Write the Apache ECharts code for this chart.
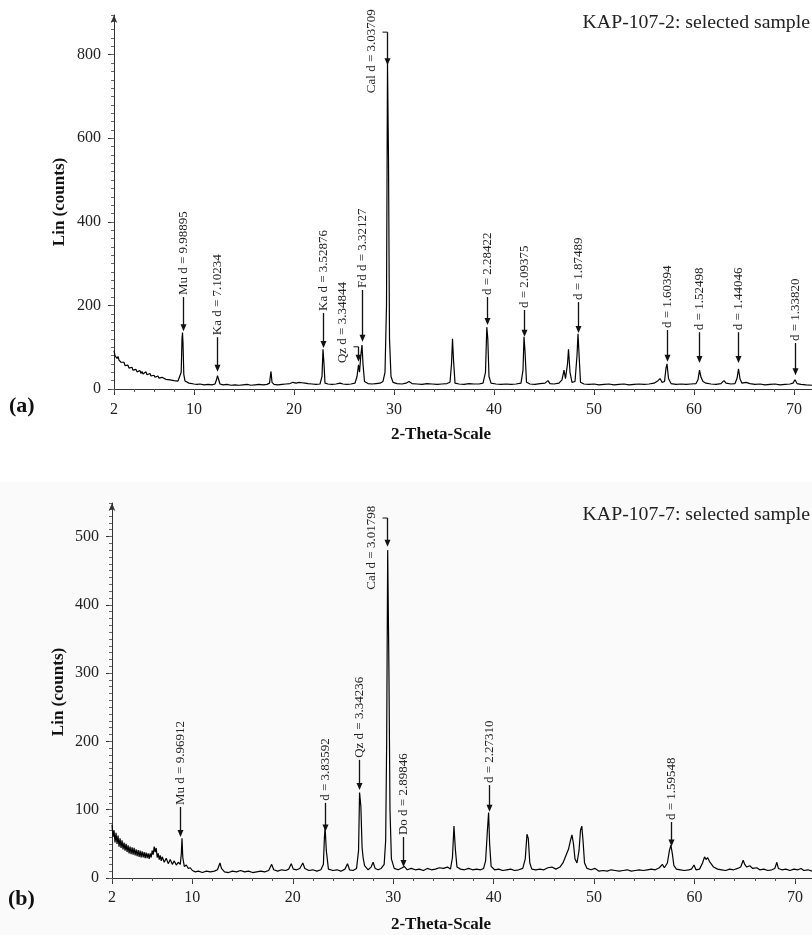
<!DOCTYPE html>
<html>
<head>
<meta charset="utf-8">
<script src="https://cdn.jsdelivr.net/npm/echarts@6/dist/echarts.min.js"></script>
<style>html,body{margin:0;padding:0;background:#fff}#c{width:812px;height:935px}</style>
</head>
<body>
<div id="c"></div>
<script>
// ---------- DATA ----------
const xTickLabels = [2, 10, 20, 30, 40, 50, 60, 70];
const yTicksA = [0, 200, 400, 600, 800];
const yTicksB = [0, 100, 200, 300, 400, 500];

// Panel (a): KAP-107-2  [2-theta, counts]
const specA = [
[2.0,92],[2.1,80],[2.2,84],[2.3,73],[2.4,78],[2.5,69],[2.6,72],[2.7,64],[2.8,68],[2.9,60],
[3.0,64],[3.1,56],[3.2,60],[3.3,53],[3.4,57],[3.5,50],[3.6,54],[3.7,47],[3.8,52],[3.9,45],
[4.0,49],[4.1,43],[4.2,47],[4.3,41],[4.4,45],[4.5,39],[4.6,44],[4.7,37],[4.8,42],[4.9,36],
[5.0,40],[5.1,35],[5.2,41],[5.3,34],[5.4,38],[5.5,32],[5.6,37],[5.7,31],[5.8,35],[5.9,30],
[6.0,33],[6.1,28],[6.2,32],[6.3,27],[6.4,31],[6.5,26],[6.6,29],[6.7,25],[6.8,28],[6.9,24],
[7.0,27],[7.2,23],[7.4,26],[7.6,22],[7.8,24],[8.0,20],[8.2,23],[8.4,19],[8.6,22],
[8.72,40],[8.8,120],[8.85,135],[8.9,110],[8.98,35],[9.1,19],[9.3,16],[9.5,14],[9.7,15],
[10.0,12],[10.3,11],[10.6,12],[11.0,10],[11.4,11],[11.8,10],[12.1,12],[12.25,22],[12.35,32],[12.45,24],
[12.6,12],[12.9,10],[13.3,11],[13.7,9],[14.1,10],[14.5,9],[14.9,10],[15.3,11],[15.7,9],[16.1,10],
[16.5,11],[16.9,10],[17.3,11],[17.55,14],[17.7,42],[17.8,16],[18.0,11],[18.4,10],[18.8,11],[19.2,12],
[19.6,13],[19.9,16],[20.2,14],[20.5,16],[20.8,15],[21.1,14],[21.4,13],[21.8,12],[22.2,11],[22.6,12],
[22.8,30],[22.9,95],[23.0,60],[23.1,14],[23.4,12],[23.8,11],[24.2,12],[24.6,14],[24.9,12],[25.3,11],
[25.7,12],[26.1,14],[26.3,30],[26.45,58],[26.55,40],[26.7,85],[26.8,105],[26.9,60],[27.05,18],[27.4,13],
[27.8,12],[28.2,13],[28.6,14],[28.9,18],[29.1,40],[29.25,200],[29.35,780],[29.45,550],[29.55,120],[29.7,30],
[29.9,16],[30.3,13],[30.8,12],[31.2,14],[31.5,18],[31.8,13],[32.3,12],[32.8,11],[33.3,13],[33.8,12],
[34.3,11],[34.8,12],[35.3,13],[35.6,16],[35.75,60],[35.85,120],[35.95,70],[36.1,14],[36.5,12],[37.0,11],
[37.5,13],[38.0,12],[38.5,12],[38.9,14],[39.15,40],[39.28,148],[39.38,120],[39.5,30],[39.7,14],[40.2,12],
[40.7,11],[41.2,12],[41.7,11],[42.2,12],[42.7,14],[42.9,45],[43.0,125],[43.1,90],[43.25,16],[43.6,12],
[44.1,11],[44.6,13],[45.1,14],[45.4,20],[45.6,13],[46.0,12],[46.5,14],[46.8,22],[47.0,45],[47.15,25],
[47.35,60],[47.45,95],[47.6,40],[47.8,16],[48.1,18],[48.3,80],[48.4,132],[48.5,85],[48.65,16],[49.0,12],
[49.5,11],[50.0,12],[50.5,10],[51.0,11],[51.5,12],[52.0,10],[52.5,11],[53.0,12],[53.5,10],[54.0,11],
[54.5,12],[55.0,11],[55.5,12],[56.0,14],[56.4,20],[56.6,25],[56.8,16],[57.05,18],[57.2,50],[57.3,60],
[57.45,25],[57.7,13],[58.2,11],[58.7,12],[59.2,11],[59.7,12],[60.2,13],[60.4,22],[60.55,45],[60.7,28],
[60.9,18],[61.2,14],[61.7,12],[62.2,11],[62.7,13],[63.0,20],[63.2,14],[63.7,12],[64.1,13],[64.3,25],
[64.45,48],[64.6,24],[64.8,14],[65.2,16],[65.6,13],[66.1,11],[66.6,12],[67.1,10],[67.6,11],[68.1,12],
[68.6,10],[69.1,11],[69.6,12],[69.9,14],[70.1,22],[70.3,13],[70.7,11],[71.2,10],[71.8,9]
];

// Panel (b): KAP-107-7  [2-theta, counts]
const specB = [
[2.0,78],[2.1,60],[2.2,70],[2.3,52],[2.4,66],[2.5,50],[2.6,62],[2.7,46],[2.8,58],[2.9,44],
[3.0,55],[3.1,42],[3.2,52],[3.3,40],[3.4,50],[3.5,38],[3.6,48],[3.7,36],[3.8,46],[3.9,35],
[4.0,45],[4.1,34],[4.2,44],[4.3,33],[4.4,42],[4.5,32],[4.6,41],[4.7,31],[4.8,40],[4.9,30],
[5.0,39],[5.1,30],[5.2,38],[5.3,29],[5.4,37],[5.5,29],[5.6,36],[5.7,28],[5.8,36],[5.9,30],
[6.0,40],[6.1,34],[6.2,46],[6.3,38],[6.4,44],[6.5,30],[6.6,36],[6.7,27],[6.8,33],[6.9,25],
[7.0,31],[7.2,23],[7.4,29],[7.6,21],[7.8,27],[8.0,20],[8.2,25],[8.4,19],[8.6,23],[8.8,20],
[8.9,35],[8.97,58],[9.05,30],[9.2,17],[9.4,19],[9.6,14],[9.8,15],
[10.0,11],[10.3,9],[10.6,10],[11.0,8],[11.4,10],[11.8,9],[12.2,10],[12.5,12],[12.75,22],[12.9,14],
[13.2,9],[13.6,8],[14.0,10],[14.4,9],[14.8,11],[15.2,9],[15.6,10],[16.0,8],[16.4,9],[16.8,10],
[17.2,9],[17.6,11],[17.9,20],[18.1,12],[18.5,10],[18.9,12],[19.3,11],[19.6,13],[19.85,21],[20.05,13],
[20.4,12],[20.7,14],[21.0,22],[21.2,14],[21.6,11],[22.0,12],[22.4,10],[22.8,12],[23.05,20],[23.15,60],
[23.22,74],[23.34,40],[23.55,13],[24.0,11],[24.4,12],[24.8,10],[25.2,13],[25.45,21],[25.65,12],[26.0,11],
[26.35,14],[26.55,40],[26.65,125],[26.78,105],[26.9,45],[27.0,30],[27.15,18],[27.5,12],[27.8,16],[28.0,23],
[28.2,14],[28.5,12],[28.8,14],[29.1,20],[29.25,55],[29.35,200],[29.45,480],[29.57,310],[29.68,100],[29.82,28],
[30.1,14],[30.5,12],[30.9,15],[31.1,17],[31.4,12],[31.8,14],[32.2,12],[32.6,13],[33.0,11],[33.4,14],
[33.8,12],[34.2,13],[34.6,15],[35.0,14],[35.4,16],[35.7,13],[35.9,30],[36.05,76],[36.2,40],[36.35,16],
[36.7,13],[37.1,12],[37.5,14],[37.9,12],[38.3,13],[38.7,12],[39.0,14],[39.2,25],[39.38,70],[39.5,96],
[39.6,50],[39.75,17],[40.1,12],[40.5,13],[40.9,11],[41.3,12],[41.7,13],[42.1,11],[42.5,12],[42.9,14],
[43.15,28],[43.32,64],[43.45,58],[43.6,22],[43.8,13],[44.2,12],[44.6,13],[45.0,12],[45.4,15],[45.8,16],
[46.2,13],[46.6,16],[46.9,22],[47.2,33],[47.45,42],[47.65,55],[47.8,63],[47.95,50],[48.1,28],[48.3,22],
[48.5,40],[48.65,70],[48.78,76],[48.9,55],[49.05,22],[49.3,14],[49.7,12],[50.1,14],[50.5,10],[50.9,11],
[51.3,10],[51.7,12],[52.1,11],[52.5,10],[52.9,11],[53.3,12],[53.7,10],[54.1,11],[54.5,12],[54.9,11],
[55.3,12],[55.7,13],[56.1,12],[56.5,15],[56.8,20],[57.0,15],[57.3,22],[57.5,40],[57.65,48],[57.8,35],
[57.95,18],[58.2,13],[58.6,12],[59.0,11],[59.4,12],[59.7,13],[59.95,19],[60.15,12],[60.5,13],[60.8,22],
[61.0,31],[61.15,27],[61.3,30],[61.5,24],[61.7,20],[61.9,16],[62.3,13],[62.7,12],[63.1,11],[63.5,13],
[63.9,12],[64.3,14],[64.6,16],[64.85,26],[65.0,20],[65.2,16],[65.5,18],[65.8,14],[66.2,15],[66.5,12],
[66.9,13],[67.3,11],[67.7,12],[68.0,14],[68.2,23],[68.35,14],[68.7,12],[69.1,13],[69.5,11],[69.9,13],
[70.3,12],[70.6,14],[70.9,11],[71.3,12],[71.7,10]
];

// Peak annotations (a)
const annTextA = ['Mu d = 9.98895','Ka d = 7.10234','Ka d = 3.52876','Qz d = 3.34844','Fd d = 3.32127','Cal d = 3.03709',
  'd = 2.28422','d = 2.09375','d = 1.87489','d = 1.60394','d = 1.52498','d = 1.44046','d = 1.33820'];
const annPosA = [8.87, 12.33, 22.87, 26.43, 26.77, 29.33, 39.33, 43.03, 48.43, 57.27, 60.53, 64.43, 70.1];
const annTipA = [138, 41, 98, 65, 113, 775, 153, 125, 134, 65, 62, 62, 33];
const annTopA = [220, 124, 182, 101, 237, 854, 220, 189, 208, 141, 136, 136, 110];
const annTextBottomA = [null, null, null, 62, null, 708, null, null, null, null, null, null, null];

// Peak annotations (b)
const annTextB = ['Mu d = 9.96912','d = 3.83592','Qz d = 3.34236','Cal d = 3.01798','Do d = 2.89846','d = 2.27310','d = 1.59548'];
const annPosB = [8.8, 23.2, 26.63, 29.42, 30.95, 39.52, 57.7];
const annTipB = [60, 68, 129, 485, 16, 97, 46];
const annTopB = [104, 110, 173, 527, 60, 136, 82];
const annTextBottomB = [null, null, null, 422, null, null, null];

// ---------- CHART ----------
const FONT = '"Liberation Serif", "DejaVu Serif", serif';
const chart = echarts.init(document.getElementById('c'), null, {renderer: 'canvas'});

function mainX(g, max, margin) {
  return {type:'value', gridIndex:g, position:'bottom', min:2, max:max,
    axisLine:{show:true, onZero:false, lineStyle:{color:'#333', width:1}},
    axisTick:{show:true, customValues:xTickLabels, length:6, lineStyle:{color:'#333'}},
    axisLabel:{customValues:xTickLabels, fontSize:16, color:'#222', fontFamily:FONT, margin:margin},
    splitLine:{show:false}};
}
function minorX(g, max) {
  return {type:'value', gridIndex:g, position:'bottom', min:2, max:max, interval:2,
    axisLine:{show:false, onZero:false}, axisTick:{show:true, length:3, lineStyle:{color:'#555'}},
    axisLabel:{show:false}, splitLine:{show:false}};
}
function mainY(g, max, ticks) {
  return {type:'value', gridIndex:g, position:'left', min:0, max:max,
    axisLine:{show:true, onZero:false, symbol:['none','arrow'], symbolSize:[5,8], lineStyle:{color:'#333', width:1}},
    axisTick:{show:true, customValues:ticks, length:6, lineStyle:{color:'#333'}},
    axisLabel:{customValues:ticks, fontSize:16, color:'#222', fontFamily:FONT, margin:13},
    splitLine:{show:false}};
}
function minorY(g, max, iv) {
  return {type:'value', gridIndex:g, position:'left', min:0, max:max, interval:iv,
    axisLine:{show:false, onZero:false}, axisTick:{show:true, length:3, lineStyle:{color:'#666'}},
    axisLabel:{show:false}, splitLine:{show:false}};
}

function annRenderer(texts, textBottoms) {
  return function (params, api) {
    const i = params.dataIndex;
    const x = api.value(0), tip = api.value(1), top = api.value(2);
    const pTip = api.coord([x, tip]);
    const pTop = api.coord([x, top]);
    const px = Math.round(pTip[0]) + 0.5;
    const kids = [
      {type:'line', shape:{x1:px, y1:pTop[1], x2:px, y2:pTip[1]-6}, style:{stroke:'#111', lineWidth:1.3}},
      {type:'polygon', shape:{points:[[px-3, pTip[1]-7],[px+3, pTip[1]-7],[px, pTip[1]]]}, style:{fill:'#111'}}
    ];
    const tb = textBottoms[i];
    const ts = {text:texts[i], fontSize:13, fontFamily:FONT, fill:'#222',
      align:'left', verticalAlign:'middle', textAlign:'left', textVerticalAlign:'middle'};
    if (tb !== null) {
      const pB = api.coord([x, tb]);
      kids.push({type:'line', shape:{x1:px-5, y1:pTop[1], x2:px, y2:pTop[1]}, style:{stroke:'#111', lineWidth:1}});
      kids.push({type:'text', x:px-16, y:pB[1], rotation:Math.PI/2, style:ts});
    } else {
      kids.push({type:'text', x:px, y:pTop[1]-2, rotation:Math.PI/2, style:ts});
    }
    return {type:'group', children:kids};
  };
}

const annDataA = annPosA.map((p, i) => [p, annTipA[i], annTopA[i]]);
const annDataB = annPosB.map((p, i) => [p, annTipB[i], annTopB[i]]);

function txt(t, x, y, size, rot, align) {
  return {type:'text', x:x, y:y, rotation:rot,
    style:{text:t, fontSize:size, fontWeight:'bold', fontFamily:FONT, fill:'#111',
      align:align, verticalAlign:'middle', textAlign:align, textVerticalAlign:'middle'}};
}

const option = {
  animation:false,
  backgroundColor:'#ffffff',
  title:[
    {text:'KAP-107-2: selected sample', right:-3, top:8,
      textStyle:{fontSize:19.8, fontWeight:'normal', color:'#222', fontFamily:FONT}},
    {text:'KAP-107-7: selected sample', right:-3, top:500,
      textStyle:{fontSize:19.8, fontWeight:'normal', color:'#222', fontFamily:FONT}}
  ],
  graphic:[
    {type:'rect', z:-10, shape:{x:0, y:482, width:812, height:453}, style:{fill:'#fafafa'}},
    txt('Lin (counts)', 60, 202, 17, Math.PI/2, 'center'),
    txt('Lin (counts)', 59, 692, 17, Math.PI/2, 'center'),
    txt('2-Theta-Scale', 441, 435, 17, 0, 'center'),
    txt('2-Theta-Scale', 441, 925, 17, 0, 'center'),
    txt('(a)', 9, 406, 22, 0, 'left'),
    txt('(b)', 8, 899, 22, 0, 'left')
  ],
  grid:[
    {left:114, right:0, top:15, height:374, containLabel:false},
    {left:112, right:0, top:503, height:375, containLabel:false}
  ],
  xAxis:[mainX(0, 71.8, 13), minorX(0, 71.8), mainX(1, 71.7, 12), minorX(1, 71.7)],
  yAxis:[mainY(0, 895, yTicksA), minorY(0, 895, 20), mainY(1, 549, yTicksB), minorY(1, 549, 10)],
  series:[
    {type:'line', name:'KAP-107-2', xAxisIndex:0, yAxisIndex:0, data:specA, showSymbol:false, symbol:'none',
      lineStyle:{color:'#000', width:1.2}, silent:true, z:3},
    {type:'custom', xAxisIndex:0, yAxisIndex:0, data:annDataA, renderItem:annRenderer(annTextA, annTextBottomA),
      encode:{x:0, y:[1,2]}, clip:false, silent:true, z:5},
    {type:'line', name:'KAP-107-7', xAxisIndex:2, yAxisIndex:2, data:specB, showSymbol:false, symbol:'none',
      lineStyle:{color:'#000', width:1.2}, silent:true, z:3},
    {type:'custom', xAxisIndex:2, yAxisIndex:2, data:annDataB, renderItem:annRenderer(annTextB, annTextBottomB),
      encode:{x:0, y:[1,2]}, clip:false, silent:true, z:5}
  ]
};
chart.setOption(option);
</script>
</body>
</html>
